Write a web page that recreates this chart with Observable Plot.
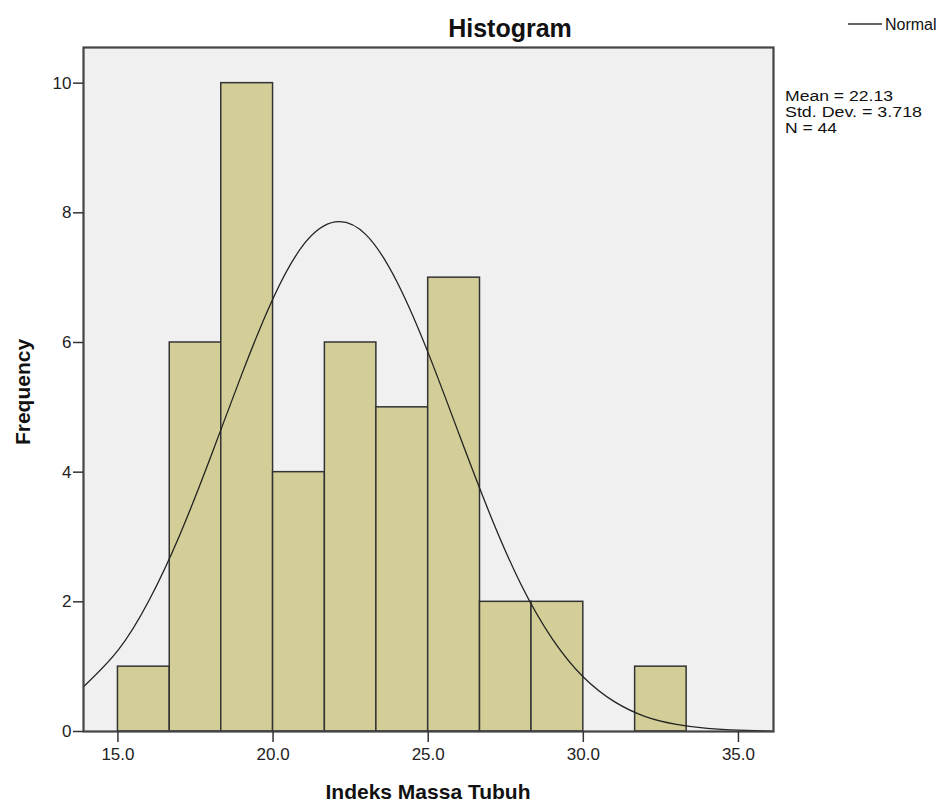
<!DOCTYPE html>
<html><head><meta charset="utf-8">
<script src="https://cdn.jsdelivr.net/npm/d3@7"></script>
<script src="https://cdn.jsdelivr.net/npm/@observablehq/plot@0.6"></script>
<style>
body{margin:0;background:#fff;}
#chart svg{display:block;}
#chart svg g[aria-label$="tick label"] text{font-size:17px !important;}
</style>
</head><body><div id="chart"></div>
<script>
// Histogram bins (lower, upper edges) and frequencies
const binLower = [15.0, 16.67, 18.33, 20.0, 21.67, 23.33, 25.0, 26.67, 28.33, 30.0, 31.67];
const binUpper = [16.67, 18.33, 20.0, 21.67, 23.33, 25.0, 26.67, 28.33, 30.0, 31.67, 33.33];
const counts   = [1, 6, 10, 4, 6, 5, 7, 2, 2, 0, 1];
// Normal curve
const curveX = [13.89, 15, 16, 17, 18, 19, 20, 21, 22, 23, 24, 25, 26, 27, 28, 29, 30, 31, 32, 33, 34, 35, 36.13];
const curveY = [0.69, 1.25, 2.02, 3.04, 4.25, 5.52, 6.68, 7.52, 7.86, 7.66, 6.93, 5.84, 4.58, 3.34, 2.26, 1.43, 0.84, 0.46, 0.23, 0.11, 0.048, 0.02, 0.006];
const xTicks = [15, 20, 25, 30, 35];
const yTicks = [0, 2, 4, 6, 8, 10];
const statLines = ["Mean = 22.13", "Std. Dev. = 3.718", "N = 44"];
const titleText = "Histogram";
const xLabel = "Indeks Massa Tubuh";
const yLabel = "Frequency";
const legendLabel = "Normal";

const bars = binLower.map((b, i) => ({x1: b, x2: binUpper[i], y: counts[i]})).filter(d => d.y > 0);
const curve = curveX.map((x, i) => ({x, y: curveY[i]}));

const W = 941, H = 805;
const font = "Liberation Sans, Arial, sans-serif";

const plot = Plot.plot({
  width: W, height: H,
  marginLeft: 83, marginRight: 168, marginTop: 47, marginBottom: 74,
  style: {fontFamily: font, fontSize: "17px", color: "#222", background: "#fff"},
  x: {domain: [13.89, 36.13], label: null},
  y: {domain: [0, 10.55], label: null},
  marks: [
    Plot.frame({fill: "#f0f0f0"}),
    Plot.rect(bars, {x1: "x1", x2: "x2", y1: 0, y2: "y", fill: "#d3ce98", stroke: "#333", strokeWidth: 1.5}),
    Plot.line(curve, {x: "x", y: "y", curve: "natural", stroke: "#222", strokeWidth: 1.3, clip: true}),
    Plot.frame({stroke: "#444", strokeWidth: 2.2}),
    Plot.axisX({ticks: xTicks, tickFormat: d3.format(".1f"), tickSize: 11, tickPadding: 5, stroke: "#333", strokeWidth: 1.5, fontSize: 17, label: null}),
    Plot.axisY({ticks: yTicks, tickSize: 10, tickPadding: 2, stroke: "#333", strokeWidth: 1.5, fontSize: 17, label: null})
  ]
});

const svg = d3.select(plot);
// Title
svg.append("text").attr("x", 510).attr("y", 37).attr("text-anchor", "middle")
  .attr("font-family", font).attr("font-weight", "bold").attr("font-size", 25).attr("fill", "#111").text(titleText);
// Axis labels
svg.append("text").attr("x", 428).attr("y", 799).attr("text-anchor", "middle")
  .attr("font-family", font).attr("font-weight", "bold").attr("font-size", 21).attr("fill", "#111").text(xLabel);
svg.append("text").attr("transform", "translate(30,392) rotate(-90)").attr("text-anchor", "middle")
  .attr("font-family", font).attr("font-weight", "bold").attr("font-size", 21).attr("fill", "#111").text(yLabel);
// Legend
svg.append("line").attr("x1", 848).attr("x2", 882).attr("y1", 24).attr("y2", 24).attr("stroke", "#333").attr("stroke-width", 1.5);
svg.append("text").attr("x", 885).attr("y", 30).attr("text-anchor", "start").attr("font-family", font).attr("font-size", 16)
  .attr("fill", "#111").text(legendLabel);
// Stats (one text per line, widened to the reference width)
const statWidths = [108, 137, 52];
statLines.forEach((s, i) => {
  svg.append("text").attr("x", 785).attr("y", 100.5 + i * 16.3).attr("text-anchor", "start")
    .attr("font-family", font).attr("font-size", 14).attr("fill", "#111")
    .attr("textLength", statWidths[i]).attr("lengthAdjust", "spacingAndGlyphs").text(s);
});

document.getElementById("chart").appendChild(plot);
</script>
</body></html>
